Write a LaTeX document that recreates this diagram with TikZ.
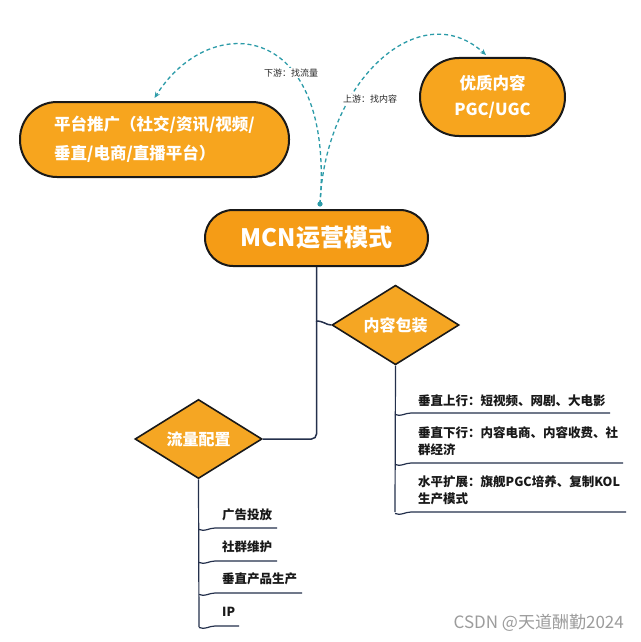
\documentclass[tikz,border=0pt]{standalone}
\usepackage{fontspec}
\setmainfont{Noto Sans CJK SC}
\usetikzlibrary{shapes.geometric,arrows.meta}
\definecolor{boxfill}{HTML}{F7A51E}
\definecolor{mcnfill}{HTML}{F59C16}
\definecolor{diafill}{HTML}{F5A623}
\definecolor{navy}{HTML}{24304C}
\definecolor{teal}{HTML}{2B9BA8}
\definecolor{wm}{HTML}{9C9C9C}
\tikzset{
  pill/.style={draw=black!90, line width=2pt, align=left, text=white, font=\bfseries},
  dia/.style={shape=diamond, draw=black!90, line width=1.6pt, fill=diafill, text=white,
    minimum width=127pt, minimum height=71pt, inner sep=0pt, font=\bfseries\fontsize{16}{18}\selectfont},
  conn/.style={draw=navy, line width=1.5pt},
  flowarc/.style={draw=teal, line width=1.3pt, dash pattern=on 4pt off 3pt, -{Stealth[length=6pt,width=5pt]}},
  item/.style={anchor=west, align=left, inner sep=0pt, text=black!90, font=\bfseries\fontsize{12.5}{17}\selectfont},
  lbl/.style={inner sep=1pt, fill=white, text=black!85, font=\fontsize{9}{10}\selectfont},
}
\begin{document}
\begin{tikzpicture}[x=1pt,y=-1pt]
\useasboundingbox (0,0) rectangle (640,642);
\fill[white] (0,0) rectangle (640,642);

% top boxes
\node[pill, fill=boxfill, minimum width=269pt, minimum height=75pt, rounded corners=37pt,
  font=\bfseries\fontsize{16.5}{29}\selectfont] (plat) at (154.5,139.5)
  {平台推广（社交/资讯/视频/\\垂直/电商/直播平台）};
\node[pill, fill=boxfill, minimum width=145pt, minimum height=78pt, rounded corners=39pt,
  align=center, font=\bfseries\fontsize{16.5}{26}\selectfont] (qual) at (492.5,97)
  {优质内容\\PGC/UGC};
\node[pill, fill=mcnfill, minimum width=223pt, minimum height=56pt, rounded corners=28pt,
  font=\bfseries\fontsize{24}{26}\selectfont] (mcn) at (316.5,238) {MCN运营模式};

% dashed arcs
\coordinate (dot) at (320,204);
\draw[flowarc] (dot) .. controls (335,20) and (210,10) .. (plat.north |- 0,98);
\draw[flowarc] (dot) .. controls (325,80) and (420,-5) .. (486,55);
\fill[teal] (dot) circle (2.6pt);
\node[lbl] (down) at (291,73) {下游：找流量};
\node[lbl] (up) at (370,99) {上游：找内容};

% diamonds
\node[dia] (cont) at (395.5,325) {内容包装};
\node[dia] (flow) at (198.5,439) {流量配置};

% connectors
\draw[conn, rounded corners=5pt] (mcn.south) |- (flow.east);
\coordinate (cj) at (316,321);
\draw[conn] (cj) .. controls (324,321) and (326,325) .. (cont.west);

% right group
\coordinate (rbot) at (395,512);
\draw[conn, line width=1.2pt] (cont.south) -- (rbot);
\foreach \yy/\xe in {413/610, 463/623, 512/626}{
  \draw[navy, line width=1.2pt] (395,\yy+1.5) .. controls (401,\yy+4) and (405,\yy) .. (411,\yy) -- (\xe,\yy);
}
\node[item] (r1) at (418,401) {垂直上行：短视频、网剧、大电影};
\node[item] (r2) at (418,441.5) {垂直下行：内容电商、内容收费、社\\群经济};
\node[item] (r3) at (418,490) {水平扩展：旗舰PGC培养、复制KOL\\生产模式};

% left group
\coordinate (lbot) at (199,627);
\draw[conn, line width=1.2pt] (flow.south) -- (lbot);
\foreach \yy/\xe in {528/277, 561/277, 593/302, 626/239}{
  \draw[navy, line width=1.2pt] (199,\yy+1.5) .. controls (205,\yy+4) and (209,\yy) .. (215,\yy) -- (\xe,\yy);
}
\node[item] (l1) at (222,515) {广告投放};
\node[item] (l2) at (222,547) {社群维护};
\node[item] (l3) at (222,579) {垂直产品生产};
\node[item] (l4) at (222,612) {IP};

% watermark
\node[anchor=east, inner sep=0pt, text=wm, font=\fontsize{17}{18}\selectfont] (wmk) at (624,623) {CSDN @天道酬勤2024};
\end{tikzpicture}
\end{document}
